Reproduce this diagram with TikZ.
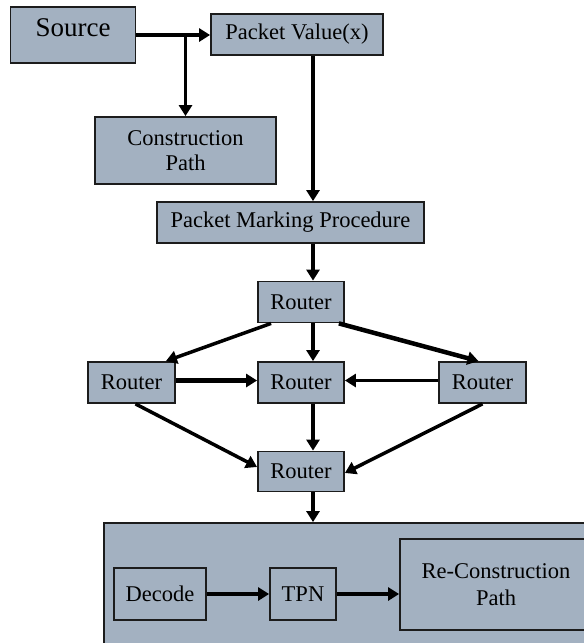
\documentclass[tikz,border=0pt]{standalone}
\usepackage{fontspec}
\setmainfont{Liberation Serif}
\usetikzlibrary{arrows.meta}

\begin{document}
\begin{tikzpicture}[x=1pt, y=-1pt,
    blk/.style={draw={rgb,255:red,28; green,28; blue,28}, line width=1.8pt, fill={rgb,255:red,163; green,177; blue,193}, inner sep=0pt, align=center, font=\fontsize{22.5}{25}\selectfont},
    flow/.style={line width=3.5pt, -{Triangle[length=11pt,width=13pt]}}]
    \useasboundingbox (0,0) rectangle (584,643);
    \clip (0,0) rectangle (584,643);
    \coordinate (spine) at (313,0);
    % sender side
    \node [blk, minimum width=125pt, minimum height=56pt, text height=18pt, text depth=16pt, font=\fontsize{27}{30}\selectfont] (src) at (73,35) {Source};
    \node [blk, minimum width=172pt, minimum height=41pt] (pv) at (297,34.5) {Packet Value(x)};
    \node [blk, minimum width=181pt, minimum height=67pt] (cp) at (185.5,150.5) {Construction\\Path};
    \node [blk, minimum width=267pt, minimum height=41pt] (pmp) at (290.5,222.5) {Packet Marking Procedure};
    % routers
    \node [blk, minimum width=86pt, minimum height=41pt] (r1) at (301,302) {Router};
    \node [blk, minimum width=87pt, minimum height=41pt] (r2) at (131.5,382.5) {Router};
    \node [blk, minimum width=86pt, minimum height=41pt] (r3) at (301,382.5) {Router};
    \node [blk, minimum width=87pt, minimum height=41pt] (r4) at (482.5,382.5) {Router};
    \node [blk, minimum width=86pt, minimum height=40pt] (r5) at (301,471.5) {Router};
    % receiver side
    \node [blk, minimum width=496pt, minimum height=137pt] (rx) at (352,591.5) {};
    \node [blk, minimum width=92pt, minimum height=52pt] (dec) at (160,594) {Decode};
    \node [blk, minimum width=66pt, minimum height=52pt] (tpn) at (303,594) {TPN};
    \node [blk, minimum width=192pt, minimum height=91pt, font=\fontsize{22.5}{27}\selectfont] (rcp) at (496,584.5) {Re-Construction\\Path};

    \draw [flow] (src.east) -- (src.east -| pv.west);
    \draw [flow] (cp.north |- src.east) -- (cp.north);
    \draw [flow] (pv.south -| spine) -- (pmp.north -| spine);
    \draw [flow] (pmp.south -| spine) -- (r1.north -| spine);
    \draw [flow] ([xshift=14pt]r1.south west) -- ([xshift=-10pt]r2.north east);
    \draw [flow] (r1.south -| spine) -- (r3.north -| spine);
    \draw [flow, line width=4.5pt] ([xshift=-6pt]r1.south east) -- ([xshift=-4pt]r4.north);
    \draw [flow, line width=4.5pt] ([yshift=2pt]r2.east) -- ([yshift=2pt]r3.west);
    \draw [flow] ([yshift=2pt]r4.west) -- ([yshift=2pt]r3.east);
    \draw [flow] ([xshift=4pt]r2.south) -- ([yshift=4.5pt]r5.west);
    \draw [flow] (r4.south) -- ([yshift=-1.5pt]r5.east);
    \draw [flow] (r3.south -| spine) -- (r5.north -| spine);
    \draw [flow] (r5.south -| spine) -- (rx.north -| spine);
    \draw [flow] (dec.east) -- (tpn.west);
    \draw [flow] (tpn.east) -- (tpn.east -| rcp.west);
\end{tikzpicture}
\end{document}
